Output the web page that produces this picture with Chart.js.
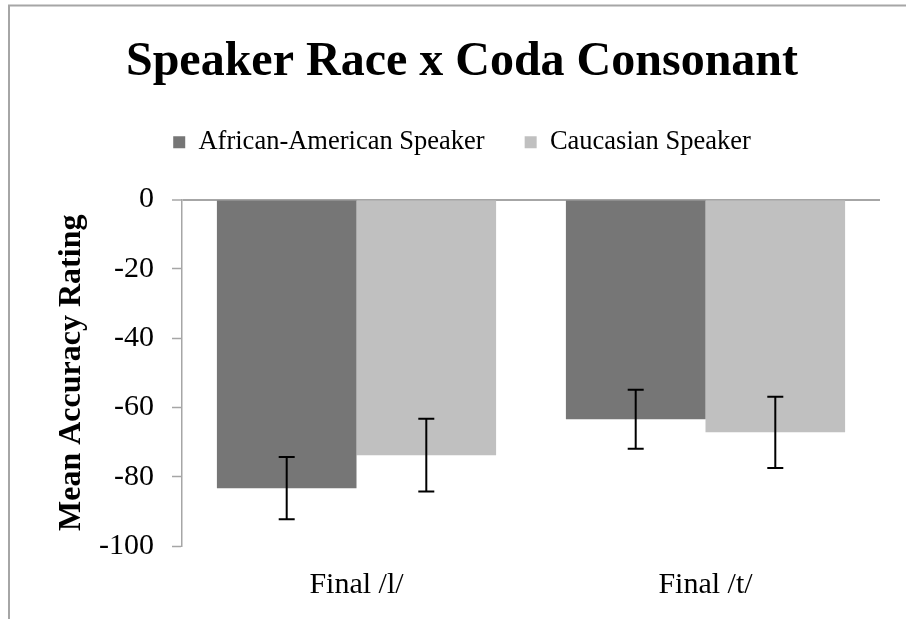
<!DOCTYPE html>
<html>
<head>
<meta charset="utf-8">
<script src="https://cdn.jsdelivr.net/npm/chart.js@4/dist/chart.umd.min.js"></script>
<style>
  html, body { margin: 0; padding: 0; background: #ffffff; }
  #wrap { position: relative; width: 906px; height: 619px; }
</style>
</head>
<body>
<div id="wrap"><canvas id="c" width="906" height="619"></canvas></div>
<script>
// Categories and series
const categories = ['Final /l/', 'Final /t/'];
const seriesNames = ['African-American Speaker', 'Caucasian Speaker'];
const africanAmerican = [-83.3, -63.4];
const caucasian = [-73.8, -67.2];
// Error bar half-widths (±)
const africanAmericanErr = [9.0, 8.5];
const caucasianErr = [10.5, 10.3];
// Y axis range / tick step
const yMin = -100, yMax = 0, yStep = 20;

const SERIF = "'Liberation Serif', 'Times New Roman', serif";
const GRAY = '#a6a6a6';

// Frame lines along the top and left edges
const framePlugin = {
  id: 'frame',
  beforeDraw(chart) {
    const ctx = chart.ctx;
    ctx.save();
    ctx.strokeStyle = GRAY;
    ctx.lineWidth = 2;
    ctx.beginPath();
    ctx.moveTo(9, 619);
    ctx.lineTo(9, 5.5);
    ctx.lineTo(906, 5.5);
    ctx.stroke();
    ctx.restore();
  }
};

// Extra space below the legend
const legendGap = {
  id: 'legendGap',
  beforeInit(chart) {
    const origFit = chart.legend.fit;
    chart.legend.fit = function () {
      origFit.call(this);
      this.height += 34;
    };
  }
};

// Error bars with caps, drawn from each dataset's `errors` array
const errorBars = {
  id: 'errorBars',
  afterDatasetsDraw(chart) {
    const ctx = chart.ctx;
    const y = chart.scales.y;
    ctx.save();
    ctx.strokeStyle = '#000000';
    ctx.lineWidth = 2;
    chart.data.datasets.forEach((ds, i) => {
      const meta = chart.getDatasetMeta(i);
      meta.data.forEach((bar, j) => {
        const v = ds.data[j], e = ds.errors[j];
        const top = y.getPixelForValue(v + e);
        const bot = y.getPixelForValue(v - e);
        const x = bar.x, half = 8;
        ctx.beginPath();
        ctx.moveTo(x, top); ctx.lineTo(x, bot);
        ctx.moveTo(x - half, top); ctx.lineTo(x + half, top);
        ctx.moveTo(x - half, bot); ctx.lineTo(x + half, bot);
        ctx.stroke();
      });
    });
    ctx.restore();
  }
};

new Chart(document.getElementById('c'), {
  type: 'bar',
  data: {
    labels: categories,
    datasets: [
      { label: seriesNames[0], data: africanAmerican, errors: africanAmericanErr,
        backgroundColor: '#767676', borderWidth: 0 },
      { label: seriesNames[1], data: caucasian, errors: caucasianErr,
        backgroundColor: '#c0c0c0', borderWidth: 0 }
    ]
  },
  options: {
    responsive: false,
    animation: false,
    events: [],
    categoryPercentage: 0.8,
    barPercentage: 1.0,
    layout: { padding: { left: 44, right: 26, top: 10, bottom: 15 } },
    plugins: {
      title: {
        display: true,
        text: 'Speaker Race x Coda Consonant',
        color: '#000000',
        font: { family: SERIF, size: 48, weight: 'bold', lineHeight: 1.0 },
        padding: { top: 29, bottom: 2 }
      },
      legend: {
        display: true,
        position: 'top',
        labels: {
          color: '#000000',
          font: { family: SERIF, size: 26.5 },
          boxWidth: 12,
          boxHeight: 12,
          padding: 40
        }
      },
      tooltip: { enabled: false }
    },
    scales: {
      x: {
        grid: { display: false, drawTicks: false },
        border: { display: false },
        ticks: { color: '#000000', font: { family: SERIF, size: 30 }, padding: 21 },
        afterFit(s) { s.height = 58; }
      },
      y: {
        min: yMin,
        max: yMax,
        ticks: { stepSize: yStep, color: '#000000', font: { family: SERIF, size: 30 }, padding: 18 },
        grid: {
          drawOnChartArea: true,
          color: (c) => (c.tick && c.tick.value === 0 ? GRAY : 'rgba(0,0,0,0)'),
          lineWidth: (c) => (c.tick && c.tick.value === 0 ? 2 : 1),
          tickColor: GRAY,
          tickLength: 10,
          tickWidth: 1.5
        },
        border: { display: true, color: GRAY, width: 1.5 },
        title: {
          display: true,
          text: 'Mean Accuracy Rating',
          color: '#000000',
          font: { family: SERIF, size: 32, weight: 'bold' },
          padding: { top: 9, bottom: 0 }
        },
        afterFit(s) { s.width = 138; }
      }
    }
  },
  plugins: [framePlugin, legendGap, errorBars]
});
</script>
</body>
</html>
